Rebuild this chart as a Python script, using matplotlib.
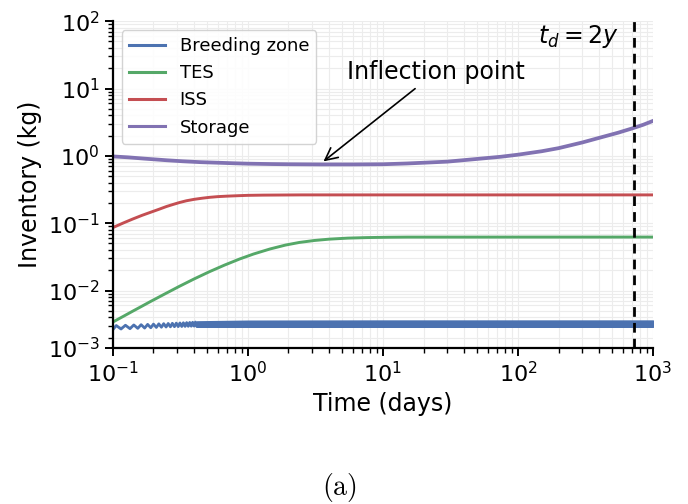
import matplotlib
matplotlib.use("Agg")
import matplotlib.pyplot as plt

# ---- inventory readings (days, kg) ----
storage_t = [0.1, 0.13, 0.17, 0.25, 0.33, 0.45, 0.6, 0.8, 1.0, 1.5, 2.0, 3.5,
             6.0, 10.0, 15.0, 20.0, 30.0, 50.0, 75.0, 100.0, 150.0, 200.0,
             300.0, 400.0, 550.0, 700.0, 850.0, 1000.0]
storage = [0.98, 0.95, 0.91, 0.86, 0.83, 0.805, 0.79, 0.775, 0.765, 0.755,
           0.75, 0.745, 0.745, 0.75, 0.77, 0.79, 0.82, 0.90, 0.97, 1.04, 1.17,
           1.30, 1.58, 1.85, 2.2, 2.55, 2.9, 3.3]

iss_t = [0.1, 0.12, 0.14, 0.165, 0.19, 0.22, 0.25, 0.28, 0.31, 0.35, 0.4,
         0.46, 0.52, 0.6, 0.7, 0.85, 1.0, 1.3, 1.8, 2.5, 5.0, 1000.0]
iss = [0.086, 0.101, 0.115, 0.131, 0.145, 0.161, 0.177, 0.190, 0.202, 0.215,
       0.226, 0.235, 0.242, 0.248, 0.252, 0.256, 0.259, 0.261, 0.262, 0.263,
       0.263, 0.263]

tes_t = [0.1, 0.12, 0.14, 0.165, 0.19, 0.24, 0.31, 0.4, 0.52, 0.67, 0.87,
         1.1, 1.46, 1.9, 2.4, 3.1, 4.0, 5.5, 7.6, 11.0, 15.0, 1000.0]
tes = [0.0034, 0.00415, 0.00492, 0.00588, 0.00686, 0.00879, 0.0115, 0.01486,
       0.01905, 0.0238, 0.0294, 0.0348, 0.0414, 0.0473, 0.0517, 0.0553,
       0.0579, 0.0600, 0.0611, 0.0618, 0.0621, 0.0622]

# breeding zone: early oscillation vertices, then the dense oscillation band
bz_t = [0.100, 0.106, 0.115, 0.124, 0.134, 0.143, 0.153, 0.162, 0.172, 0.181,
        0.191, 0.200, 0.210, 0.219, 0.229, 0.238, 0.248, 0.257, 0.267, 0.276,
        0.286, 0.295, 0.305, 0.314, 0.324, 0.333, 0.343, 0.352, 0.362, 0.371,
        0.381, 0.390, 0.400, 0.409, 0.419]
bz = [0.00262, 0.00302, 0.00268, 0.00305, 0.00271, 0.00308, 0.00274, 0.00311,
      0.00277, 0.00314, 0.00280, 0.00317, 0.00283, 0.00320, 0.00285, 0.00322,
      0.00287, 0.00324, 0.00289, 0.00326, 0.00290, 0.00328, 0.00291, 0.00330,
      0.00292, 0.00332, 0.00293, 0.00334, 0.00294, 0.00336, 0.00295, 0.00338,
      0.00296, 0.00340, 0.00296]
bz_band_t = [0.419, 1.0, 10.0, 100.0, 1000.0]
bz_band_low = [0.00296, 0.00296, 0.00296, 0.00296, 0.00296]
bz_band_high = [0.00340, 0.00348, 0.00350, 0.00350, 0.00350]

doubling_time = 730.0  # 2 years, days

y_ticks = [1.4e-3, 1e-2, 1e-1, 1e0, 1e1, 1e2]
y_tick_labels = [r"$10^{-3}$", r"$10^{-2}$", r"$10^{-1}$", r"$10^{0}$",
                 r"$10^{1}$", r"$10^{2}$"]

c_blue, c_green, c_red, c_purple = "#4C72B0", "#55A868", "#C44E52", "#8172B2"

fig = plt.figure(figsize=(6.88, 5.04), dpi=100)
ax = fig.add_axes([0.164, 0.3095, 0.785, 0.6485])

ax.plot(bz_t, bz, color=c_blue, lw=2.0, label="Breeding zone")
ax.fill_between(bz_band_t, bz_band_low, bz_band_high, color=c_blue,
                edgecolor=c_blue, lw=2.0)
ax.plot(tes_t, tes, color=c_green, lw=2.1, label="TES")
ax.plot(iss_t, iss, color=c_red, lw=2.1, label="ISS")
ax.plot(storage_t, storage, color=c_purple, lw=2.7, label="Storage")

ax.axvline(doubling_time, color="black", lw=2, ls=(0, (3.5, 2.2)))

ax.set_xscale("log")
ax.set_yscale("log")
ax.set_xlim(0.1, 1000)
ax.set_ylim(1.4e-3, 1e2)
ax.set_yticks(y_ticks)
ax.set_yticklabels(y_tick_labels)

ax.grid(True, which="both", color="#ececec", lw=0.8)
ax.set_axisbelow(True)
for side in ("top", "right"):
    ax.spines[side].set_visible(False)
for side in ("left", "bottom"):
    ax.spines[side].set_linewidth(1.6)
ax.tick_params(which="major", direction="out", length=6, width=1.4,
               labelsize=16)
ax.tick_params(which="minor", direction="out", length=3.5, width=1.0)

ax.set_xlabel("Time (days)", fontsize=17)
ax.set_ylabel("Inventory (kg)", fontsize=17)

leg = ax.legend(loc="upper left", fontsize=13, frameon=True, fancybox=True,
                edgecolor="#cccccc", framealpha=0.85)
for line in leg.get_lines():
    line.set_linewidth(2.2)

ax.annotate("Inflection point", xy=(3.5, 0.78), xytext=(24.7, 17.5),
            fontsize=17, ha="center", va="center",
            arrowprops=dict(arrowstyle="->", color="black", lw=1.2,
                            mutation_scale=22))
ax.text(280, 60, r"$t_d = 2y$", fontsize=17, ha="center", va="center")

fig.text(0.494, 0.032, r"$\mathrm{(a)}$", fontsize=20, ha="center",
         va="center", math_fontfamily="cm")

fig.savefig("out.png", dpi=100)
